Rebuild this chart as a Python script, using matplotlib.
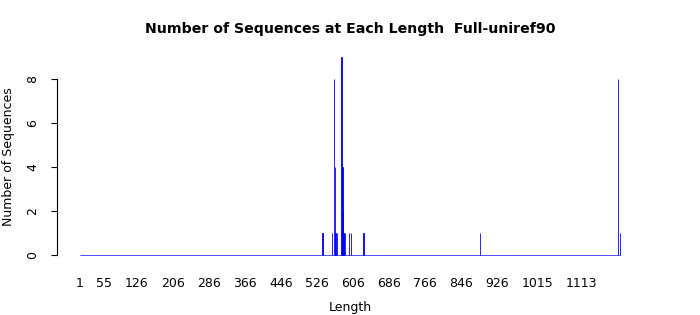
import numpy as np
import matplotlib
matplotlib.use('Agg')
import matplotlib.pyplot as plt

# sequence lengths that occur, and how many sequences have each length
seq_lengths = [538, 560, 564, 566, 567, 571, 580, 581, 583, 584, 585, 586, 588, 597, 601, 629, 887, 1193, 1198]
seq_counts = [1, 1, 8, 4, 1, 1, 9, 1, 4, 2, 1, 1, 1, 1, 1, 1, 1, 8, 1]
max_length = 1198

tick_labels = [1, 55, 126, 206, 286, 366, 446, 526, 606, 686, 766, 846, 926, 1015, 1113]
y_ticks = [0, 2, 4, 6, 8]

# full table of lengths, zero where nothing was seen
all_lengths = np.arange(1, max_length + 1)
all_counts = np.zeros(len(all_lengths))
for l, c in zip(seq_lengths, seq_counts):
    all_counts[l - 1] = c

W, H = 700, 315
fig = plt.figure(figsize=(W / 100, H / 100), dpi=100)
ax = fig.add_axes([57 / W, 1 - 261.6 / H, 583 / W, 206.8 / H])

ax.bar(all_lengths, all_counts, width=1, color='blue', edgecolor='blue', linewidth=0.6)

# pixel 57 -> left of axes, pixel 640 -> right
ax.set_xlim(-50, 1242)
ax.set_ylim(-0.3, 9.1)

for s in ['top', 'right', 'bottom']:
    ax.spines[s].set_visible(False)
ax.spines['left'].set_bounds(0, 8)
ax.spines['left'].set_linewidth(0.8)

ax.set_yticks(y_ticks)
ax.set_yticklabels([str(v) for v in y_ticks], rotation=90, va='center', fontsize=9)
ax.tick_params(axis='y', length=4, width=0.8, pad=9)

ax.set_xticks(tick_labels)
ax.set_xticklabels([str(v) for v in tick_labels], fontsize=9)
ax.tick_params(axis='x', length=0, pad=11)

# axis titles and main title placed in figure pixels
fig.text(9 / W, 1 - 157 / H, 'Number of Sequences', rotation=90,
         ha='center', va='center', fontsize=9)
fig.text(350 / W, 1 - 307 / H, 'Length', ha='center', va='center', fontsize=9)
fig.text(0.5, 1 - 29 / H, 'Number of Sequences at Each Length  Full-uniref90',
         ha='center', va='center', fontsize=10.2, fontweight='bold')

fig.savefig('out.png', dpi=100)
